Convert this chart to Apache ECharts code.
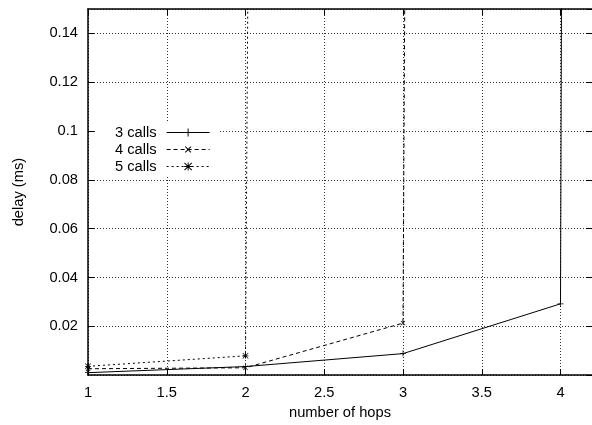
<!DOCTYPE html>
<html><head><meta charset="utf-8">
<script src="https://cdn.jsdelivr.net/npm/echarts@6/dist/echarts.min.js"></script>
<style>html,body{margin:0;padding:0;background:#fff}#c{width:592px;height:425px}</style>
</head><body><div id="c"></div>
<script>
// Data
const seriesNames = ['3 calls', '4 calls', '5 calls'];
const calls3X = [1, 2, 3, 4, 5];
const calls3Y = [0.0010, 0.0035, 0.0088, 0.0292, 20];
const calls4X = [1, 2, 3, 4];
const calls4Y = [0.0026, 0.0030, 0.0213, 12];
const calls5X = [1, 2, 3];
const calls5Y = [0.0036, 0.0079, 10];
const xTicks = [1, 1.5, 2, 2.5, 3, 3.5, 4];
const yTicks = [0.02, 0.04, 0.06, 0.08, 0.1, 0.12, 0.14];

const FONT = 'Liberation Sans';
const FS = 14.7;
const plusPath = 'path://M4.4,0H5.6V4.4H10V5.6H5.6V10H4.4V5.6H0V4.4H4.4Z';
const starPath = 'path://M4.4,0H5.6V4.4H10V5.6H5.6V10H4.4V5.6H0V4.4H4.4Z' +
  'M0,0.8L0.8,0L10,9.2L9.2,10Z M9.2,0L10,0.8L0.8,10L0,9.2Z';

function pairs(xs, ys) { return xs.map((x, i) => [x, ys[i]]); }

const chart = echarts.init(document.getElementById('c'), null, {renderer: 'canvas'});
const gridLine = {show: true, lineStyle: {color: '#333', width: 1, type: [1, 2]}};
const axisLine = {show: true, onZero: false, lineStyle: {color: '#000', width: 1.5}};
const tick = {show: true, inside: true, length: 6, lineStyle: {color: '#000', width: 1}};

const mkSeries = (name, data, type, symbol, rotate) => ({
  name, type: 'line', data, clip: true,
  symbol, symbolSize: 6, symbolRotate: rotate,
  showAllSymbol: true,
  lineStyle: {color: '#000', width: 1, type},
  itemStyle: {color: '#000'},
  emphasis: {disabled: true}
});

chart.setOption({
  animation: false,
  textStyle: {fontFamily: FONT},
  grid: {left: 88, right: 0, top: 9, bottom: 46, containLabel: false},
  legend: {
    orient: 'vertical', left: 95, top: 123, align: 'right',
    itemWidth: 43, itemHeight: 10, itemGap: 2,
    padding: [2, 8, 2, 20],
    backgroundColor: '#fff',
    selectedMode: false,
    lineStyle: {width: 1},
    textStyle: {fontFamily: FONT, fontSize: FS, lineHeight: 14, color: '#000', padding: [0, 5, 0, 0]},
    data: seriesNames
  },
  xAxis: [{
    type: 'value', min: 1, max: 4.2, interval: 0.5, position: 'bottom',
    name: 'number of hops', nameLocation: 'middle', nameGap: 25,
    nameTextStyle: {fontFamily: FONT, fontSize: FS, color: '#000'},
    axisLine, axisTick: tick, splitLine: gridLine,
    axisLabel: {fontFamily: FONT, fontSize: FS, color: '#000', margin: 10, showMaxLabel: false,
      formatter: v => xTicks.includes(v) ? String(v) : ''}
  }, {
    type: 'value', min: 1, max: 4.2, interval: 0.5, position: 'top',
    axisLine, axisTick: tick, splitLine: {show: false}, axisLabel: {show: false}
  }],
  yAxis: [{
    type: 'value', min: 0, max: 0.15, interval: 0.02, position: 'left',
    name: 'delay (ms)', nameLocation: 'middle', nameGap: 62,
    nameTextStyle: {fontFamily: FONT, fontSize: FS, color: '#000'},
    axisLine, axisTick: tick, splitLine: gridLine,
    axisLabel: {fontFamily: FONT, fontSize: FS, color: '#000', margin: 10,
      showMinLabel: false, showMaxLabel: false,
      formatter: v => { const t = yTicks.find(k => Math.abs(k - v) < 1e-9); return t === undefined ? '' : String(t); }}
  }, {
    type: 'value', min: 0, max: 0.15, interval: 0.02, position: 'right',
    axisLine: {show: false}, axisTick: tick, splitLine: {show: false}, axisLabel: {show: false}
  }],
  series: [
    mkSeries(seriesNames[0], pairs(calls3X, calls3Y), 'solid', plusPath, 0),
    mkSeries(seriesNames[1], pairs(calls4X, calls4Y), [4, 3], plusPath, 45),
    mkSeries(seriesNames[2], pairs(calls5X, calls5Y), [2, 3], starPath, 0)
  ]
});
</script></body></html>
